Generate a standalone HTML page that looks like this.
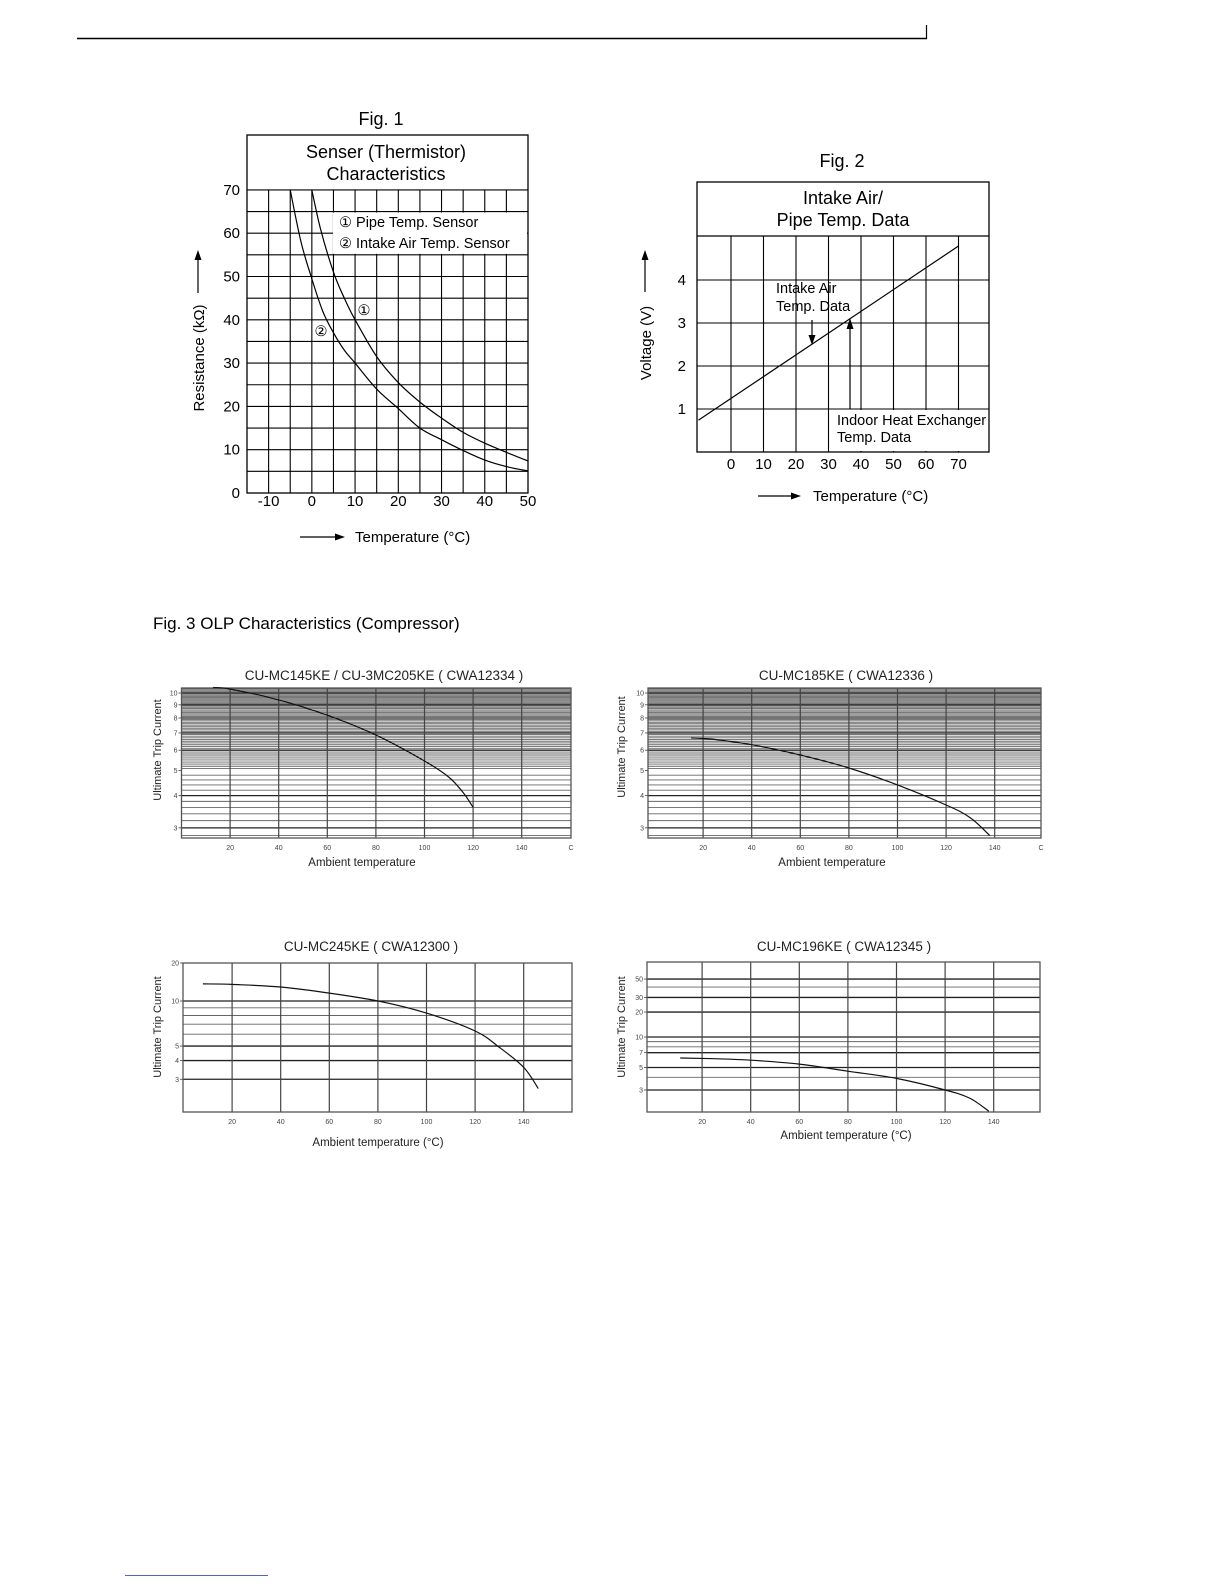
<!DOCTYPE html>
<html><head><meta charset="utf-8"><style>
html,body{margin:0;padding:0;background:#fff}
svg{display:block;font-family:"Liberation Sans",Arial,sans-serif}
</style></head><body>
<svg id="page" width="1224" height="1584" viewBox="0 0 1224 1584" xmlns="http://www.w3.org/2000/svg">
<rect width="1224" height="1584" fill="#fff"/>
<g>
<line x1="77" y1="38.5" x2="927" y2="38.5" stroke="#000" stroke-width="1.5"/>
<line x1="926.5" y1="25" x2="926.5" y2="39" stroke="#000" stroke-width="1.2"/>
</g>
<line x1="125" y1="1575.5" x2="268" y2="1575.5" stroke="#4a6bb0" stroke-width="1"/>

<!-- FIG 1 -->
<g id="fig1">
<text x="381" y="125" font-size="18" text-anchor="middle">Fig. 1</text>
<rect x="247" y="135" width="281" height="358" fill="none" stroke="#000" stroke-width="1.3"/>
<text x="386" y="158" font-size="18" text-anchor="middle">Senser (Thermistor)</text>
<text x="386" y="180" font-size="18" text-anchor="middle">Characteristics</text>
<g id="f1grid"></g>
<g id="f1legend"></g>
<g id="f1curves"></g>
<g id="f1ticks" font-size="15"></g>
<text transform="translate(204,358) rotate(-90)" font-size="15" text-anchor="middle">Resistance (kΩ)</text>
<g><line x1="198" y1="293" x2="198" y2="258" stroke="#000" stroke-width="1.2"/><polygon points="198,250 194.5,260 201.5,260" fill="#000"/></g>
<g><line x1="300" y1="537" x2="336" y2="537" stroke="#000" stroke-width="1.2"/><polygon points="345,537 335,533.5 335,540.5" fill="#000"/></g>
<text x="355" y="542" font-size="15">Temperature (°C)</text>
</g>

<!-- FIG 2 -->
<g id="fig2">
<text x="842" y="167" font-size="18" text-anchor="middle">Fig. 2</text>
<rect x="697" y="182" width="292" height="270" fill="none" stroke="#000" stroke-width="1.3"/>
<text x="843" y="204" font-size="18" text-anchor="middle">Intake Air/</text>
<text x="843" y="226" font-size="18" text-anchor="middle">Pipe Temp. Data</text>
<g id="f2grid"></g>
<g id="f2line"></g>
<g id="f2ticks" font-size="15"></g>
<text transform="translate(651,343) rotate(-90)" font-size="15" text-anchor="middle">Voltage (V)</text>
<g><line x1="645" y1="292" x2="645" y2="258" stroke="#000" stroke-width="1.2"/><polygon points="645,250 641.5,260 648.5,260" fill="#000"/></g>
<g><line x1="758" y1="496" x2="792" y2="496" stroke="#000" stroke-width="1.2"/><polygon points="801,496 791,492.5 791,499.5" fill="#000"/></g>
<text x="813" y="501" font-size="15">Temperature (°C)</text>
</g>

<text x="153" y="629" font-size="17">Fig. 3 OLP Characteristics (Compressor)</text>
<g id="olp"></g>
</svg>
<script>
// ===== Fig 1 data =====
const f1PipeTemps = [0, 2, 5, 7.5, 10, 15, 20, 25, 30, 35, 40, 45, 50];
const f1PipeRes   = [70, 61, 51, 45, 40, 31.5, 25.5, 21, 17.3, 14, 11.5, 9.4, 7.4];
const f1AirTemps  = [-5, -2.5, 0, 2.5, 5, 7.5, 10, 15, 20, 25, 30, 35, 40, 45, 50];
const f1AirRes    = [70, 58, 49.5, 42, 37, 33, 30, 24, 19.5, 15, 12.3, 9.8, 7.6, 6.1, 5.1];
const f1XTicks = [-10, 0, 10, 20, 30, 40, 50];
const f1YTicks = [0, 10, 20, 30, 40, 50, 60, 70];
// ===== Fig 2 data =====
const f2Temps = [-10, 70];
const f2Volts = [0.74, 4.79];
const f2XTicks = [0, 10, 20, 30, 40, 50, 60, 70];
const f2YTicks = [1, 2, 3, 4];
// ===== Fig 3 OLP data =====
const olpATemps = [13, 20, 40, 60, 80, 100, 110, 116, 120];
const olpACurrent = [10.5, 10.36, 9.4, 8.2, 6.87, 5.45, 4.72, 4.1, 3.6];
const olpBTemps = [15, 25, 40, 60, 80, 100, 120, 130, 138];
const olpBCurrent = [6.7, 6.6, 6.3, 5.75, 5.12, 4.4, 3.68, 3.28, 2.8];
const olpCTemps = [8, 20, 40, 60, 80, 100, 120, 130, 140, 146];
const olpCCurrent = [13, 12.9, 12.4, 11.3, 10, 8.3, 6.3, 4.9, 3.6, 2.6];
const olpDTemps = [11, 25, 40, 60, 80, 100, 120, 130, 138];
const olpDCurrent = [6.2, 6.1, 5.9, 5.4, 4.6, 3.9, 3.0, 2.5, 1.85];
const olpXTicks = [20, 40, 60, 80, 100, 120, 140];
const olpAYTicks = [10, 9, 8, 7, 6, 5, 4, 3];
const olpCYTicks = [20, 10, 5, 4, 3];
const olpDYTicks = [50, 30, 20, 10, 7, 5, 3];

const NS = "http://www.w3.org/2000/svg";
function mk(tag, attrs, parent) {
  const e = document.createElementNS(NS, tag);
  for (const k in attrs) e.setAttribute(k, attrs[k]);
  parent.appendChild(e);
  return e;
}
function smoothPath(pts) {
  let d = "M" + pts[0][0].toFixed(1) + "," + pts[0][1].toFixed(1);
  for (let i = 0; i < pts.length - 1; i++) {
    const p0 = pts[i - 1] || pts[i], p1 = pts[i], p2 = pts[i + 1], p3 = pts[i + 2] || p2;
    const c1 = [p1[0] + (p2[0] - p0[0]) / 6, p1[1] + (p2[1] - p0[1]) / 6];
    const c2 = [p2[0] - (p3[0] - p1[0]) / 6, p2[1] - (p3[1] - p1[1]) / 6];
    d += " C" + c1.map(v=>v.toFixed(1)).join(",") + " " + c2.map(v=>v.toFixed(1)).join(",") + " " + p2.map(v=>v.toFixed(1)).join(",");
  }
  return d;
}

// ---- Fig 1 ----
const X1 = t => 247 + (t + 15) * 4.323;
const Y1 = r => 493 - r * 4.33;
const g1 = document.getElementById("f1grid");
for (let t = -10; t <= 45; t += 5) {
  const l = mk("line", {x1: X1(t), x2: X1(t), y1: Y1(70), y2: Y1(0), stroke: "#000", "stroke-width": 1.1}, g1);
  
  
}
for (let r = 5; r <= 70; r += 5) {
  const l = mk("line", {x1: X1(-15), x2: X1(50), y1: Y1(r), y2: Y1(r), stroke: "#000", "stroke-width": 1.1}, g1);
  
  
}
const lg = document.getElementById("f1legend");
mk("rect", {x: 333, y: Y1(65) + 1, width: X1(50) - 333 - 1, height: Y1(55) - Y1(65) - 2, fill: "#fff"}, lg);
const lt1 = mk("text", {x: 339, y: 227, "font-size": 14.5}, lg);
lt1.textContent = "① Pipe Temp. Sensor";


const lt2 = mk("text", {x: 339, y: 248, "font-size": 14.5}, lg);
lt2.textContent = "② Intake Air Temp. Sensor";


const c1g = document.getElementById("f1curves");
const pc = mk("path", {d: smoothPath(f1PipeTemps.map((t, i) => [X1(t), Y1(f1PipeRes[i])])), fill: "none", stroke: "#000", "stroke-width": 1.2}, c1g);


const ac = mk("path", {d: smoothPath(f1AirTemps.map((t, i) => [X1(t), Y1(f1AirRes[i])])), fill: "none", stroke: "#000", "stroke-width": 1.2}, c1g);


const m1 = mk("text", {x: 364, y: 315, "font-size": 14.5, "text-anchor": "middle"}, c1g);
m1.textContent = "①";


const m2 = mk("text", {x: 321, y: 336, "font-size": 14.5, "text-anchor": "middle"}, c1g);
m2.textContent = "②";


const t1 = document.getElementById("f1ticks");
f1XTicks.forEach(t => {
  const e = mk("text", {x: X1(t), y: 506, "text-anchor": "middle"}, t1);
  e.textContent = t;
  
  
});
f1YTicks.forEach(r => {
  const e = mk("text", {x: 240, y: Y1(r) + 5, "text-anchor": "end"}, t1);
  e.textContent = r;
  
  
});

// ---- Fig 2 ----
const X2 = t => 731 + t * 3.25;
const Y2 = v => 452 - v * 43;
const g2 = document.getElementById("f2grid");
mk("line", {x1: 697, x2: 989, y1: 236, y2: 236, stroke: "#000", "stroke-width": 1.2}, g2);
f2XTicks.forEach(t => {
  const l = mk("line", {x1: X2(t), x2: X2(t), y1: 236, y2: 452, stroke: "#000", "stroke-width": 1.1}, g2);
  
  
});
f2YTicks.forEach(v => {
  const l = mk("line", {x1: 697, x2: 989, y1: Y2(v), y2: Y2(v), stroke: "#000", "stroke-width": 1.1}, g2);
  
  
});
mk("rect", {x: 834, y: Y2(1) + 1, width: 154, height: 452 - Y2(1) - 2, fill: "#fff"}, g2);
const l2g = document.getElementById("f2line");
const vl = mk("line", {x1: X2(f2Temps[0]), y1: Y2(f2Volts[0]), x2: X2(f2Temps[1]), y2: Y2(f2Volts[1]), stroke: "#000", "stroke-width": 1.2}, l2g);


mk("line", {x1: 812, y1: 320, x2: 812, y2: 336, stroke: "#000", "stroke-width": 1.2}, l2g);
mk("polygon", {points: "812,345 808.5,335 815.5,335", fill: "#000"}, l2g);
mk("line", {x1: 850, y1: Y2(1), x2: 850, y2: 329, stroke: "#000", "stroke-width": 1.2}, l2g);
mk("polygon", {points: "850,318 846.5,329 853.5,329", fill: "#000"}, l2g);
[["Intake Air", 776, 293], ["Temp. Data", 776, 311], ["Indoor Heat Exchanger", 837, 425], ["Temp. Data", 837, 442]].forEach(a => {
  const e = mk("text", {x: a[1], y: a[2], "font-size": 14.5}, l2g);
  e.textContent = a[0];
  
  
});
const t2 = document.getElementById("f2ticks");
f2XTicks.forEach(t => {
  const e = mk("text", {x: X2(t), y: 469, "text-anchor": "middle"}, t2);
  e.textContent = t;
  
  
});
f2YTicks.forEach(v => {
  const e = mk("text", {x: 686, y: Y2(v) + 5, "text-anchor": "end"}, t2);
  e.textContent = v;
  
  
});

// ---- OLP charts ----
const olp = document.getElementById("olp");
function olpChart(cfg) {
  const g = mk("g", {}, olp);
  
  
  const X = t => cfg.x0 + t * 2.43;
  const Y = cfg.y;
  cfg.grid.forEach(v => {
    const yy = Y(v);
    if (yy < cfg.top || yy > cfg.bottom) return;
    const l = mk("line", {x1: cfg.left, x2: cfg.right, y1: yy, y2: yy, stroke: cfg.major.includes(v) ? "#222" : "#666", "stroke-width": cfg.major.includes(v) ? 1.3 : 0.9}, g);
    
    
  });
  olpXTicks.forEach(t => {
    const l = mk("line", {x1: X(t), x2: X(t), y1: cfg.top, y2: cfg.bottom, stroke: "#444", "stroke-width": 1.2}, g);
    
    
    const e = mk("text", {x: X(t), y: cfg.bottom + 12, "font-size": 7, fill: "#444", "text-anchor": "middle"}, g);
    e.textContent = t;
    
    
  });
  mk("rect", {x: cfg.left, y: cfg.top, width: cfg.right - cfg.left, height: cfg.bottom - cfg.top, fill: "none", stroke: "#555", "stroke-width": 1.3}, g);
  cfg.yticks.forEach(v => {
    const yy = Math.max(Y(v), cfg.top);
    const e = mk("text", {x: cfg.left - 4, y: yy + 2.5, "font-size": 7, fill: "#444", "text-anchor": "end"}, g);
    e.textContent = v;
    
    
    mk("line", {x1: cfg.left - 3, x2: cfg.left, y1: yy, y2: yy, stroke: "#444", "stroke-width": 0.8}, g);
  });
  if (cfg.unitC) {
    const e = mk("text", {x: cfg.right, y: cfg.bottom + 12, "font-size": 7, fill: "#444", "text-anchor": "middle"}, g);
    e.textContent = "C";
    
    
  }
  const p = mk("path", {d: smoothPath(cfg.temps.map((t, i) => [X(t), Y(cfg.vals[i])])), fill: "none", stroke: "#111", "stroke-width": 1.2}, g);
  
  
  const ti = mk("text", {x: cfg.tx, y: cfg.ty, "font-size": 13.5, fill: "#222", "text-anchor": "middle"}, g);
  ti.textContent = cfg.title;
  
  
  const yt = mk("text", {transform: "translate(" + cfg.ylx + "," + cfg.yly + ") rotate(-90)", "font-size": 11, fill: "#222", "text-anchor": "middle"}, g);
  yt.textContent = "Ultimate Trip Current";
  
  
  const xt = mk("text", {x: cfg.xlx, y: cfg.xly, "font-size": 11.5, fill: "#222", "text-anchor": "middle"}, g);
  xt.textContent = cfg.xtitle;
  
  
}
const denseGrid = [];
for (let v = 2.8; v <= 5.0; v += 0.2) denseGrid.push(+v.toFixed(1));
for (let v = 5.1; v <= 10.5; v += 0.1) denseGrid.push(+v.toFixed(1));
const logA = v => 693 + 112 * Math.log(10 / v);
olpChart({name: "olp-chart-cwa12334", x0: 181.5, left: 181.5, right: 571, top: 688, bottom: 838, y: logA,
  grid: denseGrid, major: [3, 4, 5, 6, 7, 8, 9, 10], yticks: olpAYTicks, temps: olpATemps, vals: olpACurrent, unitC: true,
  title: "CU-MC145KE / CU-3MC205KE ( CWA12334 )", tx: 384, ty: 680, ylx: 161, yly: 750, xlx: 362, xly: 866, xtitle: "Ambient temperature"});
olpChart({name: "olp-chart-cwa12336", x0: 654.5, left: 648, right: 1041, top: 688, bottom: 838, y: logA,
  grid: denseGrid, major: [3, 4, 5, 6, 7, 8, 9, 10], yticks: olpAYTicks, temps: olpBTemps, vals: olpBCurrent, unitC: true,
  title: "CU-MC185KE ( CWA12336 )", tx: 846, ty: 680, ylx: 625, yly: 747, xlx: 832, xly: 866, xtitle: "Ambient temperature"});
const logC = v => 1001 - 65 * Math.log(v / 10);
olpChart({name: "olp-chart-cwa12300", x0: 183.5, left: 183, right: 572, top: 963, bottom: 1112, y: logC,
  grid: [10, 9, 8, 7, 6, 5, 4, 3], major: [10, 5, 4, 3], yticks: olpCYTicks, temps: olpCTemps, vals: olpCCurrent, unitC: false,
  title: "CU-MC245KE ( CWA12300 )", tx: 371, ty: 951, ylx: 161, yly: 1027, xlx: 378, xly: 1146, xtitle: "Ambient temperature  (°C)"});
const logD = v => v <= 10 ? 1037 + 44 * Math.log(10 / v) : 1037 - 36 * Math.log(v / 10);
olpChart({name: "olp-chart-cwa12345", x0: 653.5, left: 647, right: 1040, top: 962, bottom: 1112, y: logD,
  grid: [50, 40, 30, 20, 10, 9, 8, 7, 5, 4, 3], major: [50, 30, 20, 10, 7, 5, 3], yticks: olpDYTicks, temps: olpDTemps, vals: olpDCurrent, unitC: false,
  title: "CU-MC196KE ( CWA12345 )", tx: 844, ty: 951, ylx: 625, yly: 1027, xlx: 846, xly: 1139, xtitle: "Ambient temperature  (°C)"});
</script>
</body></html>
